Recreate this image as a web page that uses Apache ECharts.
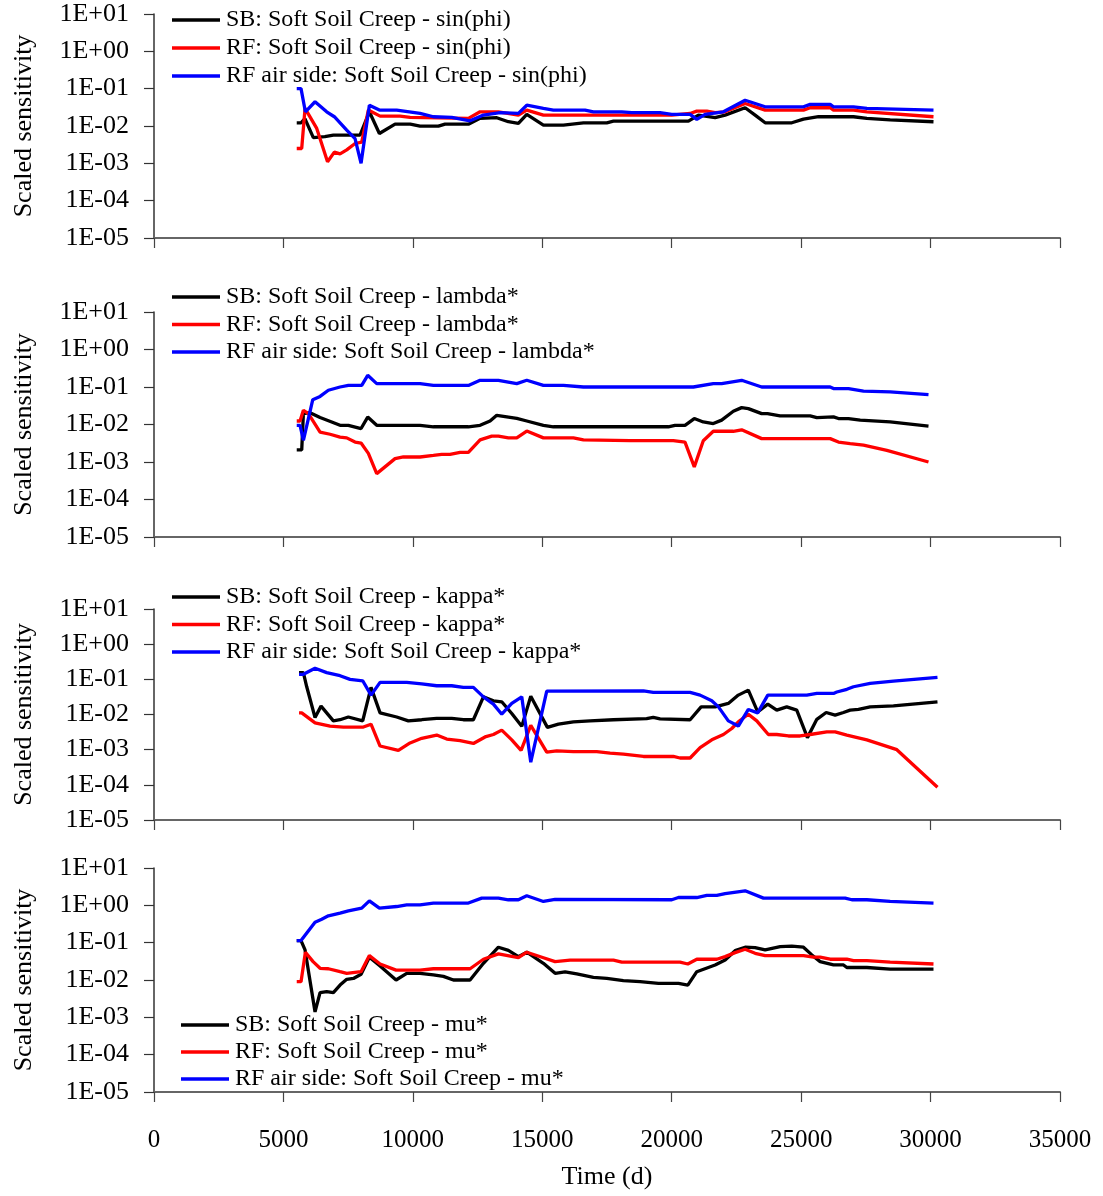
<!DOCTYPE html>
<html>
<head>
<meta charset="utf-8">
<script src="https://cdn.jsdelivr.net/npm/echarts@6/dist/echarts.min.js"></script>
<style>
html,body{margin:0;padding:0;background:#fff;}
#chart{width:1103px;height:1196px;}
</style>
</head>
<body>
<div id="chart"></div>
<script>
// ---------- DATA ([time (d), scaled sensitivity]) ----------
const xTicks = [0, 5000, 10000, 15000, 20000, 25000, 30000, 35000];
const yTickLabels = ['1E-05', '1E-04', '1E-03', '1E-02', '1E-01', '1E+00', '1E+01'];
const seriesPrefixes = ['SB: Soft Soil Creep - ', 'RF: Soft Soil Creep - ', 'RF air side: Soft Soil Creep - '];
const parameters = ['sin(phi)', 'lambda*', 'kappa*', 'mu*'];

const sinphiSB = [[5514,0.0122],[5680,0.0122],[5830,0.0158],[6155,0.0049],[6600,0.0052],[6929,0.0057],[7960,0.0057],[8320,0.024],[8707,0.0063],[9312,0.0112],[9900,0.0112],[10278,0.0099],[10986,0.0099],[11244,0.0112],[12145,0.0112],[12597,0.016],[13241,0.0167],[13690,0.013],[14077,0.0117],[14401,0.0205],[15043,0.0106],[15816,0.0106],[16589,0.0122],[17492,0.0122],[17748,0.0135],[20646,0.0135],[21032,0.0196],[21677,0.0167],[22063,0.0196],[22836,0.0308],[23222,0.0196],[23609,0.0122],[24640,0.0122],[25090,0.0153],[25670,0.0177],[27022,0.0177],[27538,0.016],[28439,0.0145],[30113,0.013]];
const sinphiRF = [[5514,0.0025],[5707,0.0025],[5835,0.0297],[6287,0.0086],[6704,0.0011],[6967,0.002],[7187,0.0018],[7445,0.0023],[7767,0.0034],[8025,0.0037],[8281,0.0267],[8733,0.0184],[9505,0.0184],[9892,0.017],[12145,0.016],[12597,0.024],[13304,0.024],[14077,0.0196],[14401,0.0267],[15043,0.0196],[20000,0.0196],[20711,0.0217],[20969,0.025],[21355,0.025],[21677,0.0227],[22063,0.024],[22836,0.040],[23609,0.0267],[25090,0.0267],[25348,0.0308],[26121,0.0308],[26249,0.0267],[27022,0.0267],[27538,0.024],[30113,0.0177]];
const sinphiAir = [[5514,0.1],[5680,0.1],[5848,0.024],[6221,0.0446],[6671,0.024],[6967,0.0177],[7445,0.0078],[7767,0.0046],[7999,0.001],[8320,0.036],[8707,0.0267],[9376,0.0267],[10278,0.0218],[10793,0.0177],[11502,0.017],[12210,0.0138],[12726,0.0196],[13369,0.0227],[14077,0.0218],[14401,0.036],[15043,0.0297],[15429,0.0267],[16653,0.0267],[16975,0.024],[18070,0.024],[18456,0.0227],[19550,0.0227],[20002,0.0205],[20711,0.0205],[20969,0.015],[21290,0.0205],[21998,0.024],[22836,0.049],[23609,0.0327],[25090,0.0327],[25348,0.038],[26121,0.038],[26249,0.0327],[27022,0.0327],[27538,0.0297],[30113,0.0267]];

const lambdaSB = [[5514,0.0021],[5707,0.0021],[5771,0.0195],[6029,0.0207],[6415,0.0153],[6865,0.0117],[7187,0.0095],[7509,0.0095],[7999,0.0078],[8256,0.0158],[8604,0.0095],[10278,0.0095],[10793,0.0087],[12145,0.0087],[12597,0.0095],[12983,0.0124],[13241,0.0176],[14014,0.0145],[14401,0.0124],[15043,0.0095],[15429,0.0087],[19869,0.0087],[20127,0.0095],[20513,0.0095],[20872,0.0144],[21219,0.0117],[21606,0.0106],[21930,0.0131],[22380,0.0225],[22702,0.0282],[22960,0.0265],[23475,0.0195],[23700,0.0195],[24186,0.0169],[25348,0.0169],[25606,0.0153],[26249,0.016],[26442,0.0144],[26829,0.0144],[27281,0.0131],[28439,0.0117],[29920,0.0091]];
const lambdaRF = [[5514,0.0124],[5642,0.0124],[5771,0.024],[5964,0.0195],[6415,0.0063],[6801,0.0055],[7187,0.0046],[7445,0.0044],[7767,0.0034],[7999,0.0032],[8281,0.0017],[8604,0.00049],[9312,0.00123],[9634,0.00136],[10278,0.00136],[10793,0.0015],[11115,0.0016],[11437,0.0016],[11824,0.0018],[12145,0.0018],[12597,0.0039],[13048,0.0049],[13304,0.0049],[13690,0.0044],[14014,0.0044],[14401,0.0067],[15043,0.0044],[16203,0.0044],[16589,0.0039],[18394,0.0037],[20062,0.0037],[20513,0.0034],[20872,0.00074],[21219,0.0037],[21606,0.0066],[22380,0.0066],[22702,0.0072],[23475,0.0042],[26121,0.0042],[26442,0.0034],[26894,0.0031],[27409,0.0028],[28311,0.00205],[29920,0.001]];
const lambdaAir = [[5514,0.0095],[5642,0.0095],[5771,0.0038],[6133,0.046],[6415,0.056],[6736,0.082],[7187,0.1],[7509,0.11],[8025,0.11],[8256,0.205],[8604,0.123],[10278,0.123],[10793,0.11],[12145,0.11],[12597,0.151],[13304,0.151],[14014,0.123],[14401,0.151],[15043,0.11],[15816,0.11],[16589,0.1],[20835,0.1],[21606,0.123],[21930,0.123],[22702,0.151],[23475,0.1],[26121,0.1],[26249,0.091],[26829,0.091],[27409,0.078],[28439,0.074],[29920,0.063]];

const kappaSB = [[5603,0.155],[5771,0.155],[5900,0.0615],[6221,0.0082],[6453,0.0173],[6929,0.0066],[7187,0.0071],[7509,0.0085],[8063,0.0066],[8384,0.059],[8733,0.0111],[9376,0.0085],[9825,0.0066],[10342,0.0071],[10921,0.0078],[11502,0.0078],[11950,0.0071],[12338,0.0071],[12726,0.0318],[13112,0.0245],[13434,0.023],[13821,0.0107],[14207,0.0046],[14555,0.033],[15198,0.0043],[15623,0.0053],[16203,0.0062],[16847,0.0066],[17748,0.0071],[19030,0.0076],[19288,0.0083],[19550,0.0075],[20711,0.0071],[21136,0.0165],[21677,0.0165],[22187,0.0206],[22573,0.0356],[22960,0.0494],[23322,0.0119],[23711,0.0197],[24057,0.0133],[24444,0.0165],[24830,0.0133],[25243,0.0022],[25606,0.0073],[25966,0.0114],[26314,0.0096],[26635,0.0114],[26893,0.0133],[27214,0.014],[27666,0.0165],[28566,0.0177],[30267,0.0229]];
const kappaRF = [[5603,0.0111],[5707,0.0111],[6221,0.0058],[6801,0.0047],[7316,0.0044],[8089,0.0044],[8384,0.0053],[8733,0.00127],[9441,0.00095],[9892,0.00155],[10342,0.0021],[10921,0.0026],[11308,0.002],[11824,0.0018],[12338,0.0015],[12790,0.0023],[13112,0.0027],[13434,0.0036],[13821,0.0019],[14181,0.00095],[14555,0.0049],[15172,0.00085],[15558,0.00093],[16203,0.00088],[17104,0.00088],[17620,0.0008],[18133,0.00075],[18907,0.00064],[20062,0.00064],[20320,0.00058],[20711,0.00058],[21097,0.00114],[21548,0.0019],[21998,0.0027],[22320,0.004],[22573,0.0062],[22960,0.0102],[23286,0.0066],[23733,0.0027],[24057,0.0027],[24508,0.00245],[24961,0.00245],[25348,0.0027],[25992,0.0032],[26314,0.0032],[26766,0.0026],[27538,0.0019],[28697,0.001],[30267,0.000085]];
const kappaAir = [[5603,0.139],[5771,0.139],[6221,0.206],[6671,0.155],[7187,0.127],[7573,0.1],[8063,0.091],[8384,0.0356],[8733,0.082],[9763,0.082],[10342,0.0745],[10921,0.0657],[11502,0.0657],[11950,0.059],[12338,0.059],[12726,0.0318],[13112,0.0197],[13434,0.0102],[13821,0.0206],[14207,0.0318],[14555,0.00044],[15172,0.046],[18907,0.047],[19288,0.0425],[20711,0.0425],[21097,0.0356],[21548,0.0245],[21805,0.0165],[22187,0.0066],[22573,0.0047],[22960,0.0139],[23322,0.0111],[23711,0.0356],[25218,0.0356],[25606,0.0398],[26249,0.0398],[26378,0.0437],[26766,0.052],[27022,0.0615],[27666,0.077],[28566,0.089],[30267,0.114]];

const muSB = [[5514,0.1135],[5680,0.1135],[5835,0.064],[6221,0.0014],[6415,0.0046],[6671,0.0049],[6929,0.0046],[7187,0.0073],[7445,0.0104],[7703,0.011],[7999,0.0142],[8320,0.0406],[8733,0.0238],[9351,0.01],[9763,0.0151],[10278,0.0151],[10793,0.0137],[11180,0.0125],[11566,0.01],[12210,0.01],[12726,0.028],[13304,0.0755],[13690,0.062],[14077,0.0423],[14401,0.0555],[15043,0.028],[15495,0.0151],[15881,0.0166],[16332,0.0145],[16975,0.0118],[17492,0.011],[18133,0.0096],[18779,0.009],[19487,0.0081],[20260,0.0081],[20622,0.0073],[20969,0.0167],[21677,0.0253],[22063,0.0343],[22449,0.061],[22836,0.0755],[23222,0.074],[23609,0.064],[24189,0.078],[24640,0.081],[25090,0.0755],[25413,0.047],[25734,0.031],[26249,0.0253],[26637,0.0253],[26766,0.0216],[27538,0.0216],[28439,0.0195],[30113,0.0195]];
const muRF = [[5514,0.009],[5680,0.009],[5848,0.0555],[6145,0.031],[6415,0.0206],[6736,0.02],[7187,0.0167],[7445,0.0151],[7999,0.0167],[8320,0.045],[8733,0.0268],[9351,0.0184],[10278,0.0184],[10793,0.02],[12210,0.02],[12726,0.036],[13304,0.05],[14077,0.0395],[14401,0.0555],[15043,0.0395],[15495,0.031],[16074,0.034],[17750,0.034],[18070,0.03],[20320,0.03],[20622,0.0268],[20969,0.036],[21741,0.036],[22063,0.0423],[22449,0.054],[22836,0.0667],[23222,0.052],[23609,0.045],[25090,0.045],[25477,0.0408],[25734,0.0408],[26121,0.036],[26766,0.036],[27022,0.033],[27538,0.033],[28439,0.03],[30113,0.0268]];
const muAir = [[5514,0.1135],[5680,0.1135],[6221,0.354],[6480,0.426],[6736,0.523],[7187,0.618],[7509,0.71],[8025,0.843],[8320,1.32],[8707,0.843],[9376,0.93],[9763,1.03],[10278,1.03],[10793,1.15],[12145,1.15],[12661,1.56],[13304,1.56],[13690,1.41],[14077,1.41],[14401,1.8],[15043,1.27],[15495,1.45],[20002,1.41],[20260,1.62],[20969,1.62],[21355,1.84],[21741,1.84],[22063,2.05],[22836,2.45],[23544,1.56],[26701,1.56],[26958,1.41],[27538,1.41],[28439,1.27],[30113,1.15]];

const panelData = [
  [sinphiSB, sinphiRF, sinphiAir],
  [lambdaSB, lambdaRF, lambdaAir],
  [kappaSB, kappaRF, kappaAir],
  [muSB, muRF, muAir]
];

// ---------- LAYOUT / STYLE ----------
const FONT = "'Liberation Serif', 'DejaVu Serif', serif";
const colors = ['#000000', '#ff0000', '#0000ff'];
const grids = [
  {top: 14, height: 224},
  {top: 312, height: 225},
  {top: 609, height: 211},
  {top: 868, height: 224}
];
const legendPos = [
  {left: 172, top: 8, gap: 4},
  {left: 172, top: 285, gap: 3.5},
  {left: 172, top: 585, gap: 3.5},
  {left: 181, top: 1013, gap: 3}
];

function yLabel(v) {
  const e = Math.round(Math.log10(v));
  return yTickLabels[e + 5] || '';
}

const option = {
  animation: false,
  backgroundColor: '#ffffff',
  textStyle: {fontFamily: FONT},
  grid: grids.map(g => ({left: 154, right: 43, top: g.top, height: g.height, containLabel: false})),
  xAxis: grids.map((g, i) => ({
    type: 'value', gridIndex: i, min: xTicks[0], max: xTicks[xTicks.length - 1], interval: 5000,
    axisLine: {show: true, onZero: false, lineStyle: {color: '#666', width: 2}},
    axisTick: {show: true, inside: false, length: 10, lineStyle: {color: '#444', width: 1.2}},
    splitLine: {show: false},
    axisLabel: {show: i === 3, margin: 36, fontSize: 25, color: '#000', fontFamily: FONT,
                formatter: v => String(v)},
    name: i === 3 ? 'Time (d)' : '',
    nameLocation: 'middle', nameGap: 72,
    nameTextStyle: {fontSize: 26, color: '#000', fontFamily: FONT}
  })),
  yAxis: grids.map((g, i) => ({
    type: 'log', logBase: 10, gridIndex: i, min: 1e-5, max: 10, splitNumber: 6,
    axisLine: {show: true, lineStyle: {color: '#333', width: 1.5}},
    axisTick: {show: true, inside: false, length: 10, lineStyle: {color: '#333', width: 1.2}},
    minorTick: {show: false},
    splitLine: {show: false},
    axisLabel: {margin: 25, fontSize: 26, color: '#000', fontFamily: FONT, formatter: yLabel},
    name: 'Scaled sensitivity',
    nameLocation: 'middle', nameGap: 117, nameRotate: 90,
    nameTextStyle: {fontSize: 26, color: '#000', fontFamily: FONT}
  })),
  legend: legendPos.map((p, i) => ({
    orient: 'vertical', left: p.left, top: p.top, itemGap: p.gap, padding: 0,
    icon: 'rect', itemWidth: 48, itemHeight: 3.3,
    data: seriesPrefixes.map(s => s + parameters[i]),
    textStyle: {fontSize: 24, lineHeight: 24, color: '#000', fontFamily: FONT, padding: [0, 0, 0, 1]},
    selectedMode: false
  })),
  series: []
};

panelData.forEach((sets, i) => {
  sets.forEach((d, k) => {
    option.series.push({
      type: 'line',
      name: seriesPrefixes[k] + parameters[i],
      xAxisIndex: i, yAxisIndex: i,
      data: d,
      symbol: 'none', showSymbol: false,
      lineStyle: {color: colors[k], width: 3.3},
      itemStyle: {color: colors[k]},
      z: 2 + k
    });
  });
});

const chart = echarts.init(document.getElementById('chart'), null, {renderer: 'canvas'});
chart.setOption(option);
</script>
</body>
</html>
